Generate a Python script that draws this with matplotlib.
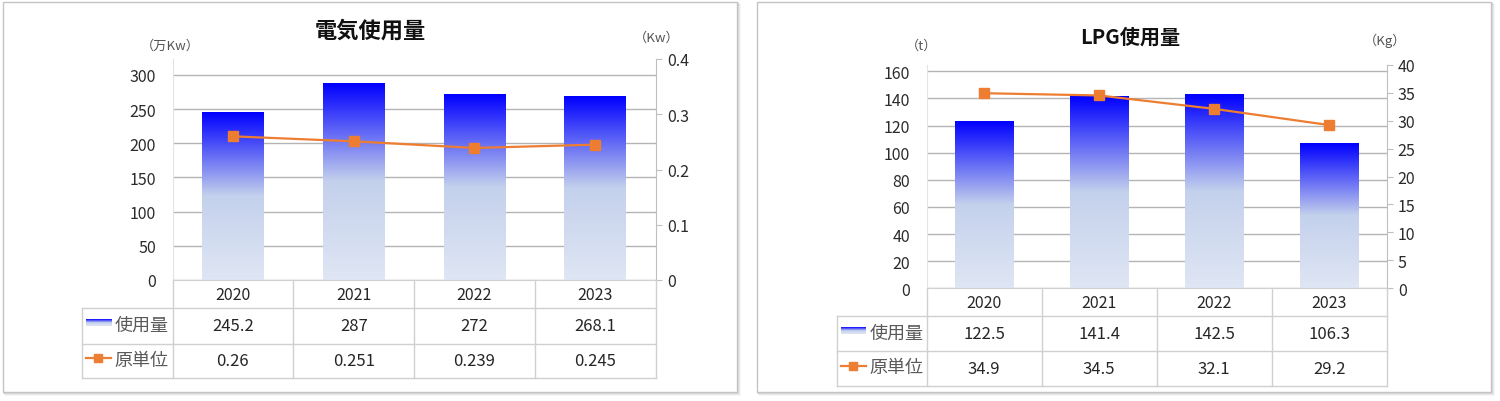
import numpy as np
import matplotlib
matplotlib.use('Agg')
import matplotlib.pyplot as plt
from matplotlib.colors import LinearSegmentedColormap
from matplotlib.patches import Rectangle

plt.rcParams['font.family'] = ['Noto Sans CJK JP', 'DejaVu Sans']

# データ
years = ['2020', '2021', '2022', '2023']

elec_usage = [245.2, 287, 272, 268.1]      # 万Kw
elec_unit = [0.26, 0.251, 0.239, 0.245]    # Kw
elec_left_ticks = [0, 50, 100, 150, 200, 250, 300]
elec_right_ticks = [0, 0.1, 0.2, 0.3, 0.4]

lpg_usage = [122.5, 141.4, 142.5, 106.3]   # t
lpg_unit = [34.9, 34.5, 32.1, 29.2]        # Kg
lpg_left_ticks = [0, 20, 40, 60, 80, 100, 120, 140, 160]
lpg_right_ticks = [0, 5, 10, 15, 20, 25, 30, 35, 40]

row_names = ['使用量', '原単位']

W, H = 1500, 402
ORANGE = '#ed7d31'
GRID = '#b4b4b4'
TBL = '#d0d0d0'
NUM = 11.5

bar_cmap = LinearSegmentedColormap.from_list(
    'bar', [(0, '#dfe6f4'), (0.5, '#c4d1ec'), (1, '#0000ff')])
grad = np.linspace(0, 1, 256).reshape(-1, 1)


def box(x0, y0, x1, y1):
    # ピクセル座標 -> figure座標
    return [x0 / W, 1 - y1 / H, (x1 - x0) / W, (y1 - y0) / H]


def frame(fig, x0, y0, x1, y1):
    for i, a in enumerate([0.10, 0.07, 0.04]):
        fig.patches.append(Rectangle((x0 / W + (i + 1) / W, 1 - (y1 + i + 1) / H),
                                     (x1 - x0) / W, (y1 - y0) / H,
                                     transform=fig.transFigure, fc='none',
                                     ec=(0, 0, 0, a), lw=1.2, zorder=-3))
    fig.patches.append(Rectangle((x0 / W, 1 - y1 / H), (x1 - x0) / W, (y1 - y0) / H,
                                 transform=fig.transFigure, fc='white',
                                 ec='#c4c4c4', lw=1, zorder=-2))


def draw_panel(fig, title, usage, unit, lticks, rticks, lmax, rmax, lay):
    px0, py0, px1, py1 = lay['plot']
    ax = fig.add_axes(box(px0, py0, px1, py1))
    ax.patch.set_visible(False)
    ax2 = ax.twinx()
    xs = np.arange(len(years))
    bw = 0.51

    # 棒グラフ（グラデーション）
    for x, h in zip(xs, usage):
        ax.imshow(grad, cmap=bar_cmap, extent=[x - bw / 2, x + bw / 2, 0, h],
                  origin='lower', aspect='auto', zorder=2, interpolation='bilinear')
    ax.set_xlim(-0.5, len(years) - 0.5)
    ax.set_ylim(0, lmax)
    ax.set_yticks(lticks)
    ax.set_xticks([])
    ax.set_axisbelow(True)
    ax.yaxis.grid(True, color=GRID, lw=1)
    ax.tick_params(axis='y', length=0, pad=12, labelsize=NUM, labelcolor='#2b2b2b')
    for s in ['top', 'right']:
        ax.spines[s].set_visible(False)
    ax.spines['left'].set_color('#e4e4e4')
    ax.spines['bottom'].set_color(TBL)

    # 原単位（折れ線）
    ax2.plot(xs, unit, color=ORANGE, lw=1.6, marker='s', ms=6.5, zorder=3, clip_on=False)
    ax2.set_ylim(0, rmax)
    ax2.set_yticks(rticks)
    ax2.yaxis.set_major_formatter(plt.FuncFormatter(lambda v, p: f'{v:g}'))
    ax2.tick_params(axis='y', length=4, color='#bfbfbf', pad=4, labelsize=NUM,
                    labelcolor='#2b2b2b')
    for s in ['top', 'left', 'bottom']:
        ax2.spines[s].set_visible(False)
    ax2.spines['right'].set_color('#bfbfbf')

    # タイトル・単位
    tx, ty, tsize = lay['title']
    fig.text(tx / W, 1 - ty / H, title, ha='center', va='center',
             fontsize=tsize, fontweight='bold', color='#111111')
    for (ux, uy, txt) in lay['units']:
        fig.text(ux / W, 1 - uy / H, txt, ha='center', va='center',
                 fontsize=9.5, color='#555555')

    # データテーブル
    lx = lay['legend_x']
    ty1 = lay['table_bottom']
    colw = (px1 - px0) / len(years)
    lw_u = (px0 - lx) / colw
    tax = fig.add_axes(box(lx, py1, px1, ty1))
    tax.patch.set_visible(False)
    rows = lay['rows']
    tax.axis('off')
    left = -0.5 - lw_u
    right = len(years) - 0.5
    for r in rows[1:]:
        tax.plot([left, right], [r, r], color=TBL, lw=1, clip_on=False)
    tax.plot([left, left], [rows[1], rows[-1]], color=TBL, lw=1, clip_on=False)
    for i in range(len(years) + 1):
        tax.plot([i - 0.5] * 2, [0, rows[-1]], color=TBL, lw=1, clip_on=False)

    c = [(rows[i] + rows[i + 1]) / 2 for i in range(3)]
    for i, y in enumerate(years):
        tax.text(i, c[0], y, ha='center', va='center', fontsize=NUM, color='#262626')
        tax.text(i, c[1], f'{usage[i]:g}', ha='center', va='center', fontsize=NUM + 0.5,
                 color='#262626')
        tax.text(i, c[2], f'{unit[i]:g}', ha='center', va='center', fontsize=NUM + 0.5,
                 color='#262626')

    k0 = left + 4 / colw
    k1 = left + 29 / colw
    tax.imshow(grad, cmap=bar_cmap, extent=[k0, k1, c[1] + 0.5, c[1] - 6],
               origin='lower', aspect='auto', interpolation='bilinear')
    tax.plot([k0, k1], [c[2] - 3, c[2] - 3], color=ORANGE, lw=1.6)
    tax.plot([(k0 + k1) / 2], [c[2] - 3], color=ORANGE, marker='s', ms=6)
    lab_x = left + 33 / colw
    for name, y in zip(row_names, c[1:]):
        tax.text(lab_x, y - 1, name, ha='left', va='center', fontsize=13,
                 color='#595959')
    tax.set_xlim(left, right)
    tax.set_ylim(rows[-1], 0)


fig = plt.figure(figsize=(W / 100, H / 100), dpi=100)

frame(fig, 3, 3, 737, 392.5)
frame(fig, 757, 3, 1491, 392.5)

elec_layout = {
    'plot': (172.5, 60, 655.7, 281),
    'title': (370, 31, 16),
    'units': [(170, 46, '（万Kw）'), (657, 38, '（Kw）')],
    'legend_x': 81.7,
    'table_bottom': 379,
    'rows': [0, 28, 63.7, 98],
}
lpg_layout = {
    'plot': (926.7, 65.7, 1386.7, 289.3),
    'title': (1130, 37.5, 14.5),
    'units': [(922, 46, '（t）'), (1385, 41, '（Kg）')],
    'legend_x': 836.7,
    'table_bottom': 387.3,
    'rows': [0, 28, 62.4, 98],
}

draw_panel(fig, '電気使用量', elec_usage, elec_unit, elec_left_ticks, elec_right_ticks,
           323.4, 0.4, elec_layout)
draw_panel(fig, 'LPG使用量', lpg_usage, lpg_unit, lpg_left_ticks, lpg_right_ticks,
           164.9, 40, lpg_layout)

fig.savefig('out.png', dpi=100)
